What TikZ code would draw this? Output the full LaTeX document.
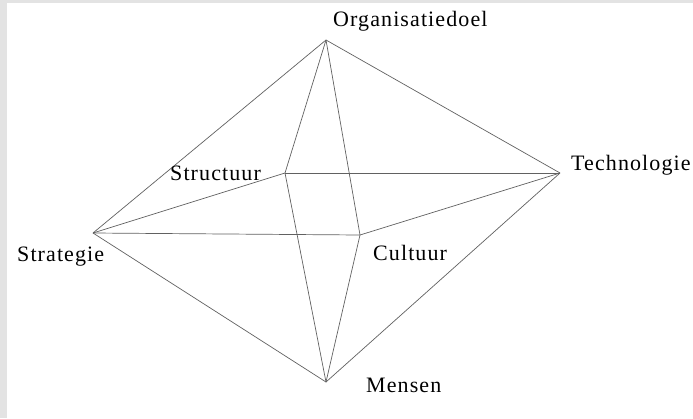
\documentclass[tikz,border=0pt]{standalone}
\usepackage{fontspec}
\setmainfont{Liberation Serif}[LetterSpace=5]
\begin{document}
\begin{tikzpicture}[x=1pt,y=-1pt,
  edge/.style={draw=black!62,line width=0.7pt},
  lbl/.style={anchor=base west,inner sep=0pt,font=\fontsize{22}{26}\selectfont}]
\useasboundingbox (0,0) rectangle (693,418);
\fill[white] (0,0) rectangle (693,418);
\fill[black!11] (0,0) rectangle (7,418);
\fill[black!11] (0,0) rectangle (693,3);
\coordinate (org) at (326,40);
\coordinate (tech) at (560,173);
\coordinate (strat) at (93,233);
\coordinate (mens) at (326,382);
\coordinate (struc) at (285,173);
\coordinate (cult) at (360,235);
\draw[edge] (org) -- (tech);
\draw[edge] (org) -- (strat);
\draw[edge] (org) -- (struc);
\draw[edge] (org) -- (cult);
\draw[edge] (mens) -- (strat);
\draw[edge] (mens) -- (tech);
\draw[edge] (mens) -- (struc);
\draw[edge] (mens) -- (cult);
\draw[edge] (strat) -- (struc);
\draw[edge] (strat) -- (cult);
\draw[edge] (struc) -- (tech);
\draw[edge] (cult) -- (tech);
\node[lbl] (lorg) at (333,26) {Organisatiedoel};
\node[lbl] (ltech) at (571,170) {Technologie};
\node[lbl] (lstruc) at (170,180) {Structuur};
\node[lbl] (lstrat) at (17,261) {Strategie};
\node[lbl] (lcult) at (373,260) {Cultuur};
\node[lbl] (lmens) at (366,392) {Mensen};
\end{tikzpicture}
\end{document}
